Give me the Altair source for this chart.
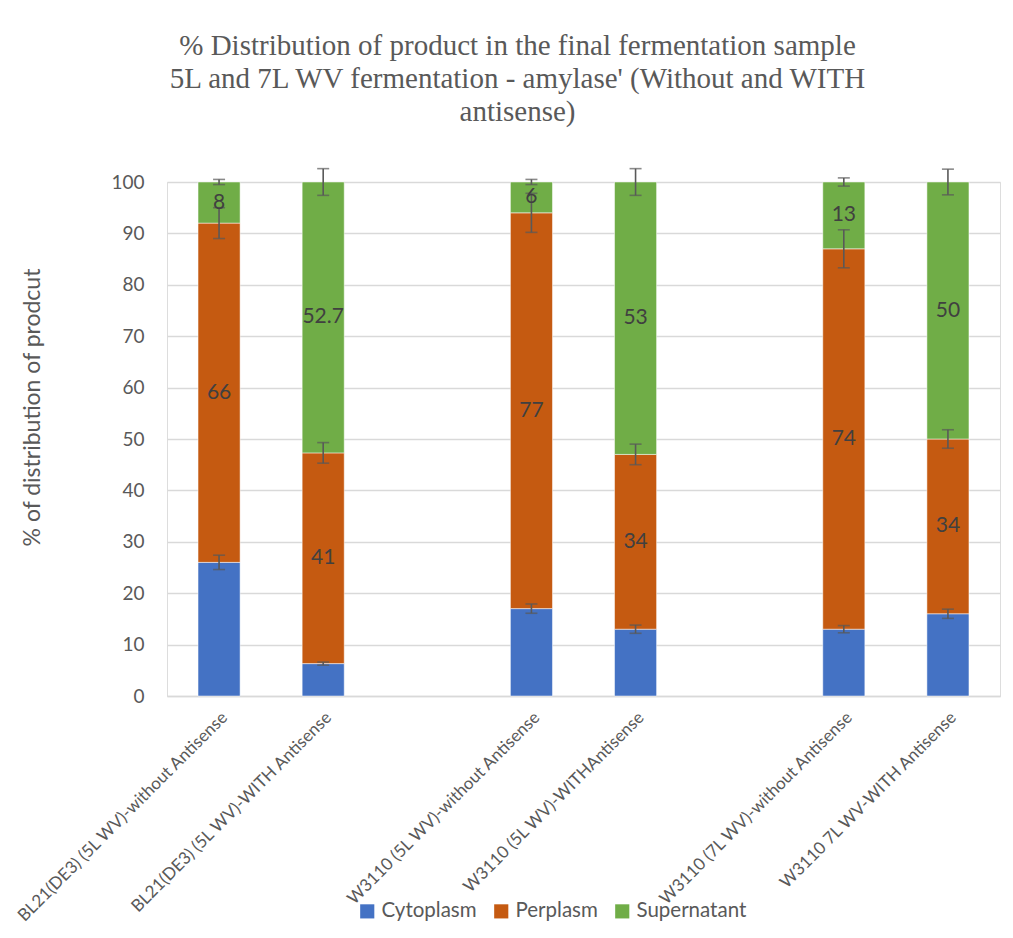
import altair as alt
import pandas as pd

# ---- data ----
categories = [
    "BL21(DE3) (5L WV)-without Antisense",
    "BL21(DE3) (5L WV)-WITH Antisense",
    "W3110 (5L WV)-without Antisense",
    "W3110 (5L WV)-WITHAntisense",
    "W3110 (7L WV)-without Antisense",
    "W3110 7L WV-WITH Antisense",
]
x_domain = [categories[0], categories[1], "gap1", categories[2], categories[3], "gap2", categories[4], categories[5]]

series = ["Cytoplasm", "Perplasm", "Supernatant"]
colors = ["#4472C4", "#C55A11", "#70AD47"]

cytoplasm = [26, 6.3, 17, 13, 13, 16]
perplasm = [66, 41, 77, 34, 74, 34]
supernatant = [8, 52.7, 6, 53, 13, 50]

cytoplasm_err = [1.4, 0.3, 0.9, 0.8, 0.7, 0.9]
perplasm_err = [3.0, 2.0, 3.8, 2.0, 3.7, 1.8]
supernatant_err = [0.5, 2.6, 0.5, 2.6, 0.8, 2.5]

title_lines = [
    "% Distribution of product in the final fermentation sample",
    "5L and 7L WV fermentation - amylase' (Without and WITH",
    "antisense)",
]
y_title = "% of distribution of prodcut"

# ---- build table ----
rows = []
for i, cat in enumerate(categories):
    base = 0.0
    for k, (name, vals, errs) in enumerate(zip(series, [cytoplasm, perplasm, supernatant],
                                              [cytoplasm_err, perplasm_err, supernatant_err])):
        v = vals[i]
        top = base + v
        rows.append({
            "category": cat, "series": name, "order": k, "value": v,
            "top": top, "lo": top - errs[i], "hi": top + errs[i],
        })
        base = top
df = pd.DataFrame(rows)

font = "Lato"
grey = "#595959"

x_enc = alt.X(
    "category:N",
    scale=alt.Scale(domain=x_domain, paddingInner=0.596, paddingOuter=0.298),
    axis=alt.Axis(
        title=None, labelAngle=-45, labelFontSize=17, labelColor=grey, labelFont=font,
        labelPadding=13, ticks=False, domainColor="#D9D9D9", domainWidth=1.5,
        labelLimit=400,
        labelExpr="indexof(datum.label, 'gap') == 0 ? '' : datum.label",
    ),
)

base = alt.Chart(df)

bars = base.mark_bar(stroke="white", strokeWidth=0.5).encode(
    x=x_enc,
    y=alt.Y(
        "value:Q", stack="zero",
        scale=alt.Scale(domain=[0, 100], nice=False),
        axis=alt.Axis(
            title=y_title, values=list(range(0, 101, 10)), grid=True, gridColor="#D9D9D9",
            gridWidth=1.5, domain=False, ticks=False, labelFontSize=19, labelColor=grey,
            labelFont=font, labelPadding=23, titleFontSize=23, titleColor=grey,
            titleFont=font, titleFontWeight="normal", titleX=-123, titleY=225,
        ),
    ),
    color=alt.Color(
        "series:N", scale=alt.Scale(domain=series, range=colors),
        legend=alt.Legend(
            title=None, orient="none", direction="horizontal", legendX=190, legendY=719,
            symbolType="square", symbolSize=200, symbolStrokeWidth=0, labelFontSize=20.5,
            labelColor=grey, labelFont=font, columnPadding=14, symbolOffset=0, labelOffset=4,
        ),
    ),
    order=alt.Order("order:Q", sort="ascending"),
)

labels = base.transform_filter(alt.datum.series != "Cytoplasm").transform_calculate(
    mid="datum.top - datum.value / 2"
).mark_text(fontSize=21, color="#404040", font=font).encode(
    x=alt.X("category:N", scale=alt.Scale(domain=x_domain)),
    y=alt.Y("mid:Q"),
    text=alt.Text("value:Q"),
)

rule = base.mark_rule(color=grey, strokeWidth=1.6).encode(
    x=alt.X("category:N", scale=alt.Scale(domain=x_domain)),
    y="lo:Q", y2="hi:Q",
)
cap_lo = base.mark_tick(color=grey, thickness=1.6, size=12, orient="horizontal").encode(
    x=alt.X("category:N", scale=alt.Scale(domain=x_domain)), y="lo:Q",
)
cap_hi = base.mark_tick(color=grey, thickness=1.6, size=12, orient="horizontal").encode(
    x=alt.X("category:N", scale=alt.Scale(domain=x_domain)), y="hi:Q",
)

chart = alt.layer(bars, rule, cap_lo, cap_hi, labels).properties(
    width=833, height=514,
    title=alt.TitleParams(
        text=title_lines, font="Liberation Serif", fontSize=29, fontWeight="normal",
        color=grey, anchor="middle", dx=-66, offset=41, lineHeight=33,
    ),
    autosize=alt.AutoSizeParams(type="none"),
    padding={"left": 159, "top": 174, "right": 5, "bottom": 230},
).configure_view(stroke=None).configure(background="white")

chart.save("out.html", embed_options={"renderer": "svg", "actions": False})
